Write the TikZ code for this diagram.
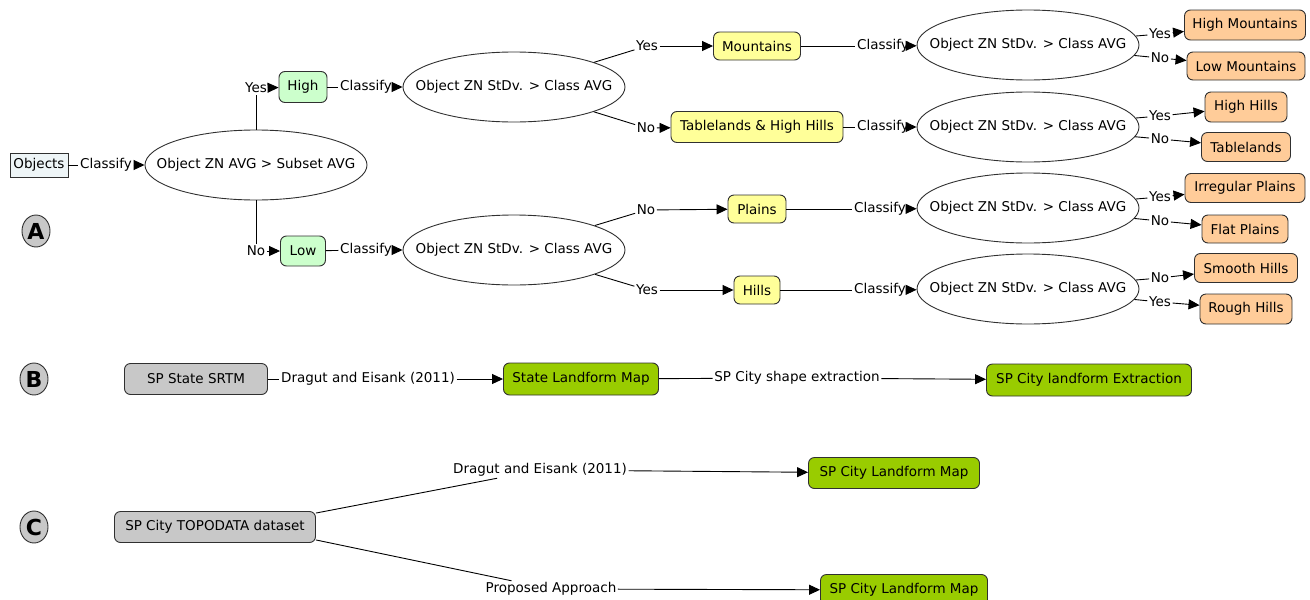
\documentclass[tikz,border=0pt]{standalone}
\usepackage{fontspec}
\setmainfont{DejaVu Sans}
\usepackage{tikz}
\usetikzlibrary{arrows.meta,positioning,shapes.geometric}
\definecolor{border}{HTML}{303030}
\definecolor{objfill}{HTML}{EEF5F7}
\definecolor{lightgreen}{HTML}{CCFFCC}
\definecolor{paleyellow}{HTML}{FFFF99}
\definecolor{peach}{HTML}{FFCC99}
\definecolor{grayfill}{HTML}{C8C8C8}
\definecolor{limegreen}{HTML}{99CC00}
\newcommand{\mapfont}{\fontsize{13.5}{16}\selectfont}
\tikzset{
  mynode/.style={
    draw=border, fill=#1, rounded corners=6pt, line width=0.9pt,
    font=\mapfont, align=center,
    inner xsep=4pt, inner ysep=2pt, minimum height=30pt,
  },
  test/.style={
    ellipse, draw=border, fill=white, font=\mapfont, line width=0.9pt,
    minimum width=222pt, minimum height=70pt, inner xsep=-40pt, inner ysep=0pt,
  },
  marker/.style={
    ellipse, draw=border, fill=grayfill, font=\fontsize{22}{24}\selectfont\bfseries,
    line width=0.9pt, minimum width=28pt, minimum height=32pt, inner sep=0pt,
  },
  lbl/.style={font=\mapfont, inner sep=1.5pt},
  link/.style={line width=0.9pt, color=black},
  arrow/.style={-{Triangle[length=11pt,width=10pt]}, line width=0.9pt, color=black},
}

\begin{document}
\begin{tikzpicture}[x=1pt,y=-1pt]
  \useasboundingbox (0,0) rectangle (1310,600);

  % part A: decision tree
  \node[marker] (markA) at (36,231) {A};
  \node[mynode=objfill, rounded corners=0pt, minimum width=58pt, minimum height=24pt,
        inner xsep=2pt] (objects) at (39,165) {Objects};
  \node[lbl] (cls0) at (106,165) {Classify};
  \node[test] (test1) at (256,165) {Object ZN AVG > Subset AVG};

  \node[lbl] (yes1) at (256,88) {Yes};
  \node[lbl] (no1) at (256,251) {No};
  \node[mynode=lightgreen, minimum width=48pt, minimum height=31pt] (high) at (303,87) {High};
  \node[mynode=lightgreen, minimum width=45pt] (low) at (303,251) {Low};

  \node[lbl] (cls1) at (366,87) {Classify};
  \node[lbl] (cls2) at (366,250) {Classify};
  \node[test] (test2) at (514,87) {Object ZN StDv. > Class AVG};
  \node[test] (test3) at (514,250) {Object ZN StDv. > Class AVG};

  \node[lbl] (yes2) at (647,46) {Yes};
  \node[lbl] (no2) at (646,128) {No};
  \node[lbl] (no3) at (646,210) {No};
  \node[lbl] (yes3) at (647,290) {Yes};
  \node[mynode=paleyellow, minimum width=87pt, minimum height=28pt] (mount) at (757,46) {Mountains};
  \node[mynode=paleyellow, minimum width=172pt, minimum height=31pt] (tabhh) at (757,127) {Tablelands \& High Hills};
  \node[mynode=paleyellow, minimum width=58pt, minimum height=28pt] (plains) at (757,209) {Plains};
  \node[mynode=paleyellow, minimum width=46pt, minimum height=28pt] (hills) at (757,290) {Hills};

  \node[lbl] (cls3) at (883,46) {Classify};
  \node[lbl] (cls4) at (883,127) {Classify};
  \node[lbl] (cls5) at (880,209) {Classify};
  \node[lbl] (cls6) at (880,290) {Classify};
  \node[test] (test4) at (1028,45) {Object ZN StDv. > Class AVG};
  \node[test] (test5) at (1028,127) {Object ZN StDv. > Class AVG};
  \node[test] (test6) at (1028,208) {Object ZN StDv. > Class AVG};
  \node[test] (test7) at (1028,289) {Object ZN StDv. > Class AVG};

  \node[lbl] (yes4) at (1160,34) {Yes};
  \node[lbl] (no4) at (1160,58) {No};
  \node[lbl] (yes5) at (1160,116) {Yes};
  \node[lbl] (no5) at (1160,139) {No};
  \node[lbl] (yes6) at (1160,197) {Yes};
  \node[lbl] (no6) at (1160,221) {No};
  \node[lbl] (no7) at (1160,278) {No};
  \node[lbl] (yes7) at (1160,302) {Yes};
  \node[mynode=peach, minimum width=121pt] (highm) at (1245,25) {High Mountains};
  \node[mynode=peach, minimum width=118pt, minimum height=28pt] (lowm) at (1246,66) {Low Mountains};
  \node[mynode=peach, minimum width=82pt] (highh) at (1246,107) {High Hills};
  \node[mynode=peach, minimum width=89pt, minimum height=29pt] (tabl) at (1246,147) {Tablelands};
  \node[mynode=peach, minimum width=120pt, minimum height=29pt] (irrp) at (1245,188) {Irregular Plains};
  \node[mynode=peach, minimum width=86pt, minimum height=28pt] (flatp) at (1245,229) {Flat Plains};
  \node[mynode=peach, minimum width=103pt, minimum height=29pt] (smooth) at (1246,268) {Smooth Hills};
  \node[mynode=peach, minimum width=92pt] (rough) at (1246,309) {Rough Hills};

  \draw[link] (objects) -- (cls0);
  \draw[arrow] (cls0) -- (test1);
  \draw[link] (test1) -- (yes1);
  \draw[arrow] (yes1) -- (high);
  \draw[link] (test1) -- (no1);
  \draw[arrow] (no1) -- (low);
  \draw[link] (high) -- (cls1);
  \draw[arrow] (cls1) -- (test2);
  \draw[link] (low) -- (cls2);
  \draw[arrow] (cls2) -- (test3);

  \draw[link] (test2) -- (yes2);
  \draw[arrow] (yes2) -- (mount);
  \draw[link] (test2) -- (no2);
  \draw[arrow] (no2) -- (tabhh);
  \draw[link] (test3) -- (no3);
  \draw[arrow] (no3) -- (plains);
  \draw[link] (test3) -- (yes3);
  \draw[arrow] (yes3) -- (hills);

  \draw[link] (mount) -- (cls3);
  \draw[arrow] (cls3) -- (test4);
  \draw[link] (tabhh) -- (cls4);
  \draw[arrow] (cls4) -- (test5);
  \draw[link] (plains) -- (cls5);
  \draw[arrow] (cls5) -- (test6);
  \draw[link] (hills) -- (cls6);
  \draw[arrow] (cls6) -- (test7);

  \draw[link] (test4) -- (yes4);  \draw[arrow] (yes4) -- (highm);
  \draw[link] (test4) -- (no4);   \draw[arrow] (no4) -- (lowm);
  \draw[link] (test5) -- (yes5);  \draw[arrow] (yes5) -- (highh);
  \draw[link] (test5) -- (no5);   \draw[arrow] (no5) -- (tabl);
  \draw[link] (test6) -- (yes6);  \draw[arrow] (yes6) -- (irrp);
  \draw[link] (test6) -- (no6);   \draw[arrow] (no6) -- (flatp);
  \draw[link] (test7) -- (no7);   \draw[arrow] (no7) -- (smooth);
  \draw[link] (test7) -- (yes7);  \draw[arrow] (yes7) -- (rough);

  % part B: state workflow
  \node[marker] (markB) at (34,379) {B};
  \node[mynode=grayfill, minimum width=143pt, minimum height=31pt] (srtm) at (196,379) {SP State SRTM};
  \node[lbl] (dragB) at (368,379) {Dragut and Eisank (2011)};
  \node[mynode=limegreen, minimum width=155pt, minimum height=32pt] (slm) at (581,379) {State Landform Map};
  \node[lbl] (shape) at (797,378) {SP City shape extraction};
  \node[mynode=limegreen, minimum width=205pt, minimum height=32pt] (ext) at (1089,380) {SP City landform Extraction};

  \draw[link] (srtm) -- (dragB);
  \draw[arrow] (dragB) -- (slm);
  \draw[link] (slm) -- (shape);
  \draw[arrow] (shape) -- (ext);

  % part C: city workflow
  \node[marker] (markC) at (34,527) {C};
  \node[mynode=grayfill, minimum width=201pt, minimum height=31pt] (topo) at (215,527) {SP City TOPODATA dataset};
  \node[lbl] (dragC) at (540,470) {Dragut and Eisank (2011)};
  \node[mynode=limegreen, minimum width=171pt, minimum height=31pt] (cmap1) at (894,473) {SP City Landform Map};
  \node[lbl] (prop) at (551,589) {Proposed Approach};
  \node[mynode=limegreen, minimum width=167pt, minimum height=31pt] (cmap2) at (904,590) {SP City Landform Map};

  \draw[link] ([yshift=-2pt]topo.north east) -- (dragC);
  \draw[arrow] (dragC) -- (cmap1);
  \draw[link] ([yshift=3pt]topo.south east) -- (prop);
  \draw[arrow] (prop) -- (cmap2);

\end{tikzpicture}
\end{document}
